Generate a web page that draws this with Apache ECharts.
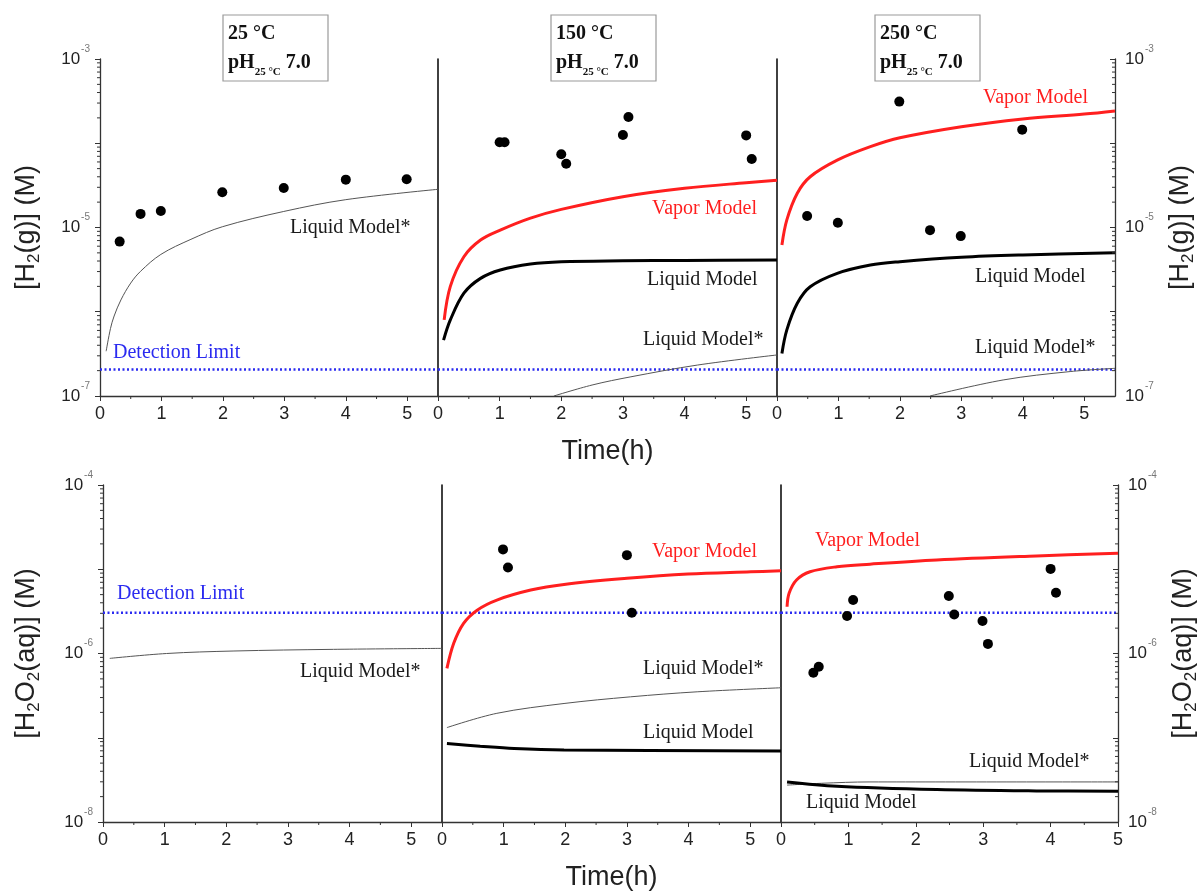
<!DOCTYPE html>
<html><head><meta charset="utf-8">
<script src="https://cdn.jsdelivr.net/npm/echarts@6/dist/echarts.min.js"></script>
<style>html,body{margin:0;padding:0;background:#fff}#c{width:1202px;height:894px}</style>
</head><body><div id="c"></div>
<script>
// ---------------- labels ----------------
const panelTemps = ['25 °C', '150 °C', '250 °C'];
const phText = '7.0';
const xTitle = 'Time(h)';
const yTitleTop = '[H{s|2}(g)] (M)';
const yTitleBottom = '[H{s|2}O{s|2}(aq)] (M)';

// ---------------- top row: [H2(g)] ----------------
const detLimitTop = 2.07e-7;
// 25 °C
const g25_pt_t = [0.32, 0.66, 0.99, 1.99, 2.99, 4.0, 4.99];
const g25_pt_v = [6.8e-6, 1.45e-5, 1.57e-5, 2.62e-5, 2.94e-5, 3.70e-5, 3.73e-5];
const g25_liqS_t = [0.1, 0.17, 0.23, 0.34, 0.5, 0.66, 0.99, 1.48, 1.99, 2.99, 4.0, 5.5];
const g25_liqS_v = [3.4e-7, 6.3e-7, 8.9e-7, 1.38e-6, 2.19e-6, 3.02e-6, 4.79e-6, 7.24e-6, 1.02e-5, 1.55e-5, 2.14e-5, 2.84e-5];
// 150 °C
const g150_pt_t = [1.0, 1.08, 2.0, 2.08, 3.0, 3.09, 5.0, 5.09];
const g150_pt_v = [1.03e-4, 1.03e-4, 7.4e-5, 5.7e-5, 1.25e-4, 2.05e-4, 1.24e-4, 6.5e-5];
const g150_vap_t = [0.1, 0.2, 0.42, 0.69, 1.01, 1.5, 2.0, 3.0, 4.0, 5.0, 5.5];
const g150_vap_v = [8.0e-7, 2.0e-6, 4.5e-6, 7.1e-6, 9.3e-6, 1.29e-5, 1.64e-5, 2.32e-5, 2.92e-5, 3.40e-5, 3.63e-5];
const g150_liq_t = [0.09, 0.2, 0.42, 0.69, 1.01, 1.5, 2.0, 3.0, 4.0, 5.5];
const g150_liq_v = [4.6e-7, 8.0e-7, 1.66e-6, 2.49e-6, 3.13e-6, 3.69e-6, 3.93e-6, 4.03e-6, 4.07e-6, 4.11e-6];
const g150_liqS_t = [1.88, 2.5, 3.13, 4.21, 5.5];
const g150_liqS_v = [1.0e-7, 1.35e-7, 1.69e-7, 2.33e-7, 3.07e-7];
// 250 °C
const g250_pt_t = [0.49, 0.99, 1.99, 2.49, 2.99, 3.99];
const g250_pt_v = [1.37e-5, 1.14e-5, 3.12e-4, 9.3e-6, 7.9e-6, 1.45e-4];
const g250_vap_t = [0.08, 0.16, 0.33, 0.54, 0.98, 1.52, 2.0, 3.0, 4.0, 5.0, 5.5];
const g250_vap_v = [6.2e-6, 1.23e-5, 2.55e-5, 4.0e-5, 6.3e-5, 9.1e-5, 1.16e-4, 1.57e-4, 1.94e-4, 2.22e-4, 2.42e-4];
const g250_liq_t = [0.08, 0.16, 0.33, 0.54, 0.98, 1.52, 2.0, 3.0, 4.0, 5.5];
const g250_liq_v = [3.2e-7, 6.1e-7, 1.26e-6, 1.98e-6, 2.86e-6, 3.59e-6, 3.93e-6, 4.43e-6, 4.72e-6, 5.02e-6];
const g250_liqS_t = [2.49, 3.68, 4.77, 5.5];
const g250_liqS_v = [1.0e-7, 1.55e-7, 1.95e-7, 2.13e-7];

// ---------------- bottom row: [H2O2(aq)] ----------------
const detLimitBottom = 3.05e-6;
// 25 °C
const a25_liqS_t = [0.11, 1.03, 2.11, 3.74, 5.5];
const a25_liqS_v = [8.75e-7, 1.0e-6, 1.07e-6, 1.12e-6, 1.15e-6];
// 150 °C
const a150_pt_t = [0.99, 1.07, 3.0, 3.08];
const a150_pt_v = [1.72e-5, 1.05e-5, 1.47e-5, 3.05e-6];
const a150_vap_t = [0.08, 0.19, 0.35, 0.57, 0.89, 1.44, 1.98, 3.0, 3.99, 5.01, 5.5];
const a150_vap_v = [6.65e-7, 1.32e-6, 2.28e-6, 3.27e-6, 4.31e-6, 5.66e-6, 6.61e-6, 7.80e-6, 8.77e-6, 9.33e-6, 9.59e-6];
const a150_liqS_t = [0.08, 0.89, 1.98, 3.06, 4.14, 5.5];
const a150_liqS_v = [1.32e-7, 1.95e-7, 2.55e-7, 3.06e-7, 3.51e-7, 3.92e-7];
const a150_liq_t = [0.08, 0.62, 1.17, 1.98, 5.5];
const a150_liq_v = [8.55e-8, 7.94e-8, 7.45e-8, 7.15e-8, 6.98e-8];
// 250 °C
const a250_pt_t = [0.48, 0.56, 0.98, 1.07, 2.49, 2.57, 2.99, 3.07, 4.0, 4.08];
const a250_pt_v = [5.9e-7, 6.95e-7, 2.78e-6, 4.31e-6, 4.81e-6, 2.91e-6, 2.43e-6, 1.30e-6, 1.01e-5, 5.26e-6];
const a250_vap_t = [0.09, 0.12, 0.23, 0.43, 0.83, 1.32, 2.31, 3.79, 5.0];
const a250_vap_v = [3.59e-6, 5.18e-6, 7.45e-6, 9.33e-6, 1.07e-5, 1.15e-5, 1.29e-5, 1.44e-5, 1.55e-5];
const a250_liq_t = [0.09, 0.83, 2.31, 3.79, 5.0];
const a250_liq_v = [2.99e-8, 2.66e-8, 2.43e-8, 2.34e-8, 2.32e-8];
const a250_liqS_t = [0.09, 0.6, 1.32, 5.0];
const a250_liqS_v = [2.74e-8, 2.88e-8, 2.99e-8, 2.99e-8];

// ---------------- layout ----------------
const SANS = 'Liberation Sans';
const SERIF = 'Liberation Serif';
const RED = '#ff1f1f', BLUE = '#2b2bf0', INK = '#1a1a1a';
const gridDefs = [
  {left: 100, top: 59, width: 338, height: 337},
  {left: 438, top: 59, width: 339, height: 337},
  {left: 777, top: 59, width: 338, height: 337},
  {left: 103, top: 485, width: 339, height: 337},
  {left: 442, top: 485, width: 339, height: 337},
  {left: 781, top: 485, width: 337, height: 337}
];
const xMax = [5.5, 5.5, 5.5, 5.5, 5.5, 5];
const yMin = [1e-7, 1e-7, 1e-7, 1e-8, 1e-8, 1e-8];
const yMax = [1e-3, 1e-3, 1e-3, 1e-4, 1e-4, 1e-4];

function zip(t, v) { return t.map((x, i) => [x, v[i]]); }

function logLabel(minExp) {
  return function (v) {
    const e = Math.round(Math.log10(v));
    if ((e - minExp) % 2 !== 0) return '';
    return '{n|10}{e|' + e + '}';
  };
}
const labelRich = {
  n: {fontSize: 17, fontFamily: SANS, color: '#222', lineHeight: 30},
  e: {fontSize: 10, fontFamily: SANS, color: '#777', verticalAlign: 'top', lineHeight: 11, padding: [0, 0, 0, 1]}
};
const nameRich = {
  s: {fontSize: 17, fontFamily: SANS, color: '#222', verticalAlign: 'bottom', lineHeight: 14}
};

const xAxes = gridDefs.map((g, i) => ({
  type: 'value', gridIndex: i, min: 0, max: xMax[i], interval: 1,
  axisLine: {show: true, onZero: false, lineStyle: {color: '#333', width: 1.3}},
  axisTick: {show: true, length: 5, lineStyle: {color: '#333', width: 1}},
  splitLine: {show: false},
  axisLabel: {
    fontSize: 18, fontFamily: SANS, color: '#222', margin: 9,
    showMaxLabel: i === 5, hideOverlap: false,
    formatter: v => (Math.abs(v - Math.round(v)) < 1e-9 ? String(Math.round(v)) : '')
  },
  name: (i === 1 || i === 4) ? xTitle : '',
  nameLocation: 'middle', nameGap: 42,
  nameTextStyle: {fontSize: 27, fontFamily: SANS, color: '#222'}
}));

const yAxes = gridDefs.map((g, i) => {
  const first = (i === 0 || i === 3);
  const minExp = Math.round(Math.log10(yMin[i]));
  return {
    type: 'log', logBase: 10, gridIndex: i, min: yMin[i], max: yMax[i], position: 'left',
    axisLine: {show: true, lineStyle: {color: first ? '#333' : '#111', width: first ? 1.3 : 1.6}},
    axisTick: {show: first, length: 5, lineStyle: {color: '#333'}},
    splitLine: {show: false},
    axisLabel: {show: first, margin: 10, formatter: logLabel(minExp), rich: labelRich},
    name: first ? (i === 0 ? yTitleTop : yTitleBottom) : '',
    nameLocation: 'middle', nameRotate: 90, nameGap: i === 0 ? 57 : 60,
    nameTextStyle: {fontSize: 27, fontFamily: SANS, color: '#222', lineHeight: 32, rich: nameRich}
  };
});
// right-hand axes for the 250 °C panels
[2, 5].forEach(i => {
  const minExp = Math.round(Math.log10(yMin[i]));
  yAxes.push({
    type: 'log', logBase: 10, gridIndex: i, min: yMin[i], max: yMax[i], position: 'right',
    axisLine: {show: true, lineStyle: {color: '#333', width: 1.3}},
    axisTick: {show: true, inside: true, length: 5, lineStyle: {color: '#333'}},
    splitLine: {show: false},
    axisLabel: {show: true, margin: 10, formatter: logLabel(minExp), rich: labelRich},
    name: i === 2 ? yTitleTop : yTitleBottom,
    nameLocation: 'middle', nameRotate: 90, nameGap: 50,
    nameTextStyle: {fontSize: 27, fontFamily: SANS, color: '#222', lineHeight: 32, rich: nameRich}
  });
});

const series = [];
function line(g, t, v, kind) {
  const st = kind === 'vap' ? {color: RED, width: 3}
           : kind === 'liq' ? {color: '#000', width: 3}
           : {color: '#555', width: 1};
  series.push({
    type: 'line', xAxisIndex: g, yAxisIndex: g, data: zip(t, v),
    showSymbol: false, smooth: 0.35, silent: true,
    lineStyle: st, z: 3
  });
}
function pts(g, t, v) {
  series.push({
    type: 'scatter', xAxisIndex: g, yAxisIndex: g, data: zip(t, v),
    symbol: 'circle', symbolSize: 10, itemStyle: {color: '#000', opacity: 1}, silent: true, z: 5
  });
}
function det(g, val) {
  series.push({
    type: 'line', xAxisIndex: g, yAxisIndex: g, data: [[0, val], [xMax[g], val]],
    showSymbol: false, silent: true, z: 2,
    lineStyle: {color: BLUE, width: 2.5, type: [2, 2.5]}
  });
}

// top
det(0, detLimitTop); det(1, detLimitTop); det(2, detLimitTop);
line(0, g25_liqS_t, g25_liqS_v, 'liqS');
pts(0, g25_pt_t, g25_pt_v);
line(1, g150_vap_t, g150_vap_v, 'vap');
line(1, g150_liq_t, g150_liq_v, 'liq');
line(1, g150_liqS_t, g150_liqS_v, 'liqS');
pts(1, g150_pt_t, g150_pt_v);
line(2, g250_vap_t, g250_vap_v, 'vap');
line(2, g250_liq_t, g250_liq_v, 'liq');
line(2, g250_liqS_t, g250_liqS_v, 'liqS');
pts(2, g250_pt_t, g250_pt_v);
// bottom
det(3, detLimitBottom); det(4, detLimitBottom); det(5, detLimitBottom);
line(3, a25_liqS_t, a25_liqS_v, 'liqS');
line(4, a150_vap_t, a150_vap_v, 'vap');
line(4, a150_liqS_t, a150_liqS_v, 'liqS');
line(4, a150_liq_t, a150_liq_v, 'liq');
pts(4, a150_pt_t, a150_pt_v);
line(5, a250_vap_t, a250_vap_v, 'vap');
line(5, a250_liqS_t, a250_liqS_v, 'liqS');
line(5, a250_liq_t, a250_liq_v, 'liq');
pts(5, a250_pt_t, a250_pt_v);

// minor ticks (drawn through the axes' scales)
function tickRender(params, api) {
  const p = api.coord([api.value(0), api.value(1)]);
  return {type: 'line', shape: {x1: p[0], y1: p[1], x2: p[0] + api.value(2), y2: p[1] + api.value(3)},
          style: {stroke: '#333', lineWidth: 1}};
}
function minorTicks(g, yIdx, items) {
  series.push({type: 'custom', xAxisIndex: g, yAxisIndex: yIdx, data: items, renderItem: tickRender,
               clip: false, silent: true, z: 4, encode: {x: 0, y: 1}});
}
function yMinorVals(g) {
  const out = [];
  const lo = Math.round(Math.log10(yMin[g])), hi = Math.round(Math.log10(yMax[g]));
  for (let k = lo; k < hi; k++) for (let m = 2; m <= 9; m++) out.push(m * Math.pow(10, k));
  return out;
}
for (let g = 0; g < 6; g++) {
  const items = [];
  for (let x = 0.5; x < xMax[g]; x += 1) items.push([x, yMin[g], 0, 3]);
  if (g === 0 || g === 3) yMinorVals(g).forEach(v => items.push([0, v, -3, 0]));
  minorTicks(g, g, items);
}
minorTicks(2, 6, yMinorVals(2).map(v => [xMax[2], v, -3, 0]));
minorTicks(5, 7, yMinorVals(5).map(v => [xMax[5], v, -3, 0]));

// ---------------- annotations ----------------
function lbl(text, x, y, color) {
  return {type: 'text', x: x, y: y, z: 10, silent: true,
          style: {text: text, fill: color, font: '20px "' + SERIF + '"', verticalAlign: 'middle'}};
}
function box(x, temp) {
  return {type: 'group', x: x, y: 15, z: 10, silent: true, children: [
    {type: 'rect', shape: {x: 0, y: 0, width: 105, height: 66}, style: {fill: '#fff', stroke: '#9a9a9a', lineWidth: 1.2}},
    {type: 'text', x: 5, y: 5, style: {
      text: '{a|' + temp + '}\n{b|pH}{s|25 °C}{b| ' + phText + '}',
      rich: {
        a: {fontFamily: SERIF, fontWeight: 'bold', fontSize: 20, fill: '#111', lineHeight: 28},
        b: {fontFamily: SERIF, fontWeight: 'bold', fontSize: 20, fill: '#111', lineHeight: 30},
        s: {fontFamily: SERIF, fontWeight: 'bold', fontSize: 11, fill: '#111', verticalAlign: 'bottom', lineHeight: 12}
      }}}
  ]};
}
const graphics = [
  box(223, panelTemps[0]), box(551, panelTemps[1]), box(875, panelTemps[2]),
  lbl('Detection Limit', 113, 353, BLUE),
  lbl('Liquid Model*', 290, 228, INK),
  lbl('Vapor Model', 652, 209, RED),
  lbl('Liquid Model', 647, 280, INK),
  lbl('Liquid Model*', 643, 340, INK),
  lbl('Vapor Model', 983, 98, RED),
  lbl('Liquid Model', 975, 277, INK),
  lbl('Liquid Model*', 975, 348, INK),
  lbl('Detection Limit', 117, 594, BLUE),
  lbl('Liquid Model*', 300, 672, INK),
  lbl('Vapor Model', 652, 552, RED),
  lbl('Liquid Model*', 643, 669, INK),
  lbl('Liquid Model', 643, 733, INK),
  lbl('Vapor Model', 815, 541, RED),
  lbl('Liquid Model*', 969, 762, INK),
  lbl('Liquid Model', 806, 803, INK)
];

const chart = echarts.init(document.getElementById('c'), null, {renderer: 'canvas'});
chart.setOption({
  backgroundColor: '#fff',
  animation: false,
  grid: gridDefs.map(g => Object.assign({containLabel: false}, g)),
  xAxis: xAxes,
  yAxis: yAxes,
  series: series,
  graphic: graphics
});
</script>
</body></html>
